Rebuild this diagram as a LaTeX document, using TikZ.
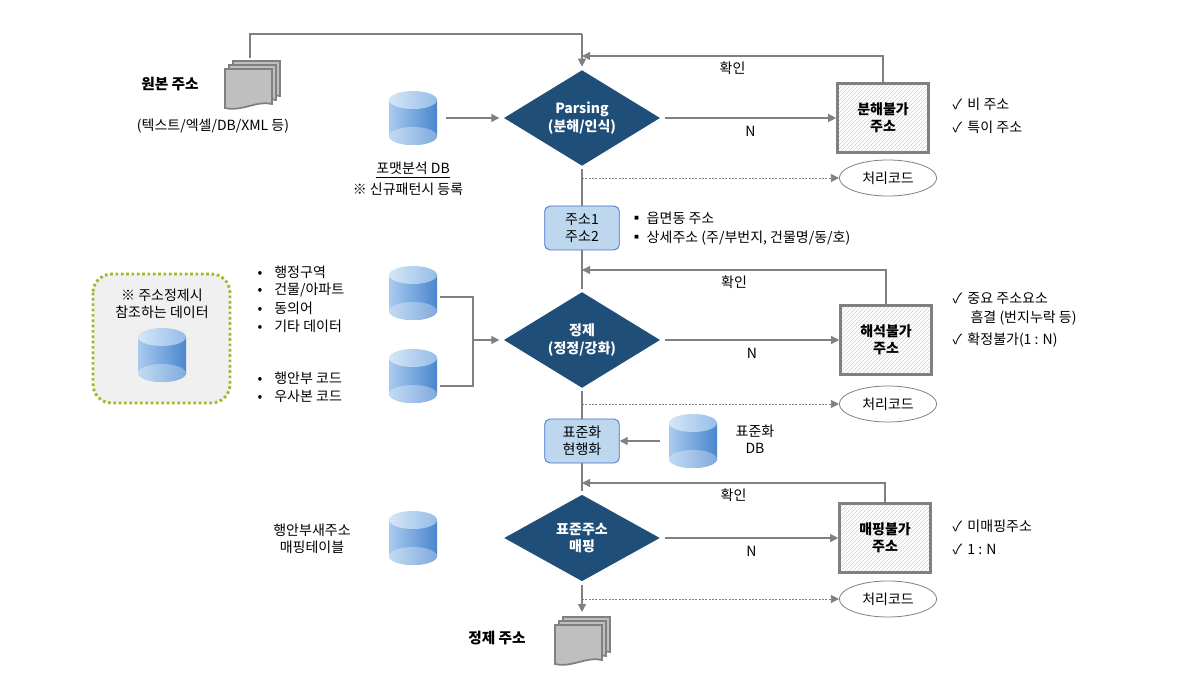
\documentclass[tikz,border=0pt]{standalone}
\usepackage{fontspec}
\setmainfont{Noto Sans CJK KR}
\usetikzlibrary{shapes.geometric,arrows.meta,patterns,shadows}
\definecolor{navy}{HTML}{1F4E79}
\definecolor{ln}{HTML}{808080}
\definecolor{lbl}{HTML}{BDD7EE}
\definecolor{lbd}{HTML}{4472C4}
\definecolor{olive}{HTML}{9BBB2A}
\definecolor{cyl1}{HTML}{A9CBEE}
\definecolor{cyl2}{HTML}{4A86CF}
\definecolor{cyl3}{HTML}{D5E6F8}
\tikzset{
 x=0.75pt,y=-0.75pt,
 every node/.style={font=\fontsize{10.5}{13}\selectfont,align=center,inner sep=1pt},
 arr/.style={draw=ln,line width=0.9pt,-{Triangle[width=6pt,length=6pt]}},
 ln/.style={draw=ln,line width=0.9pt},
 dsh/.style={draw=ln,line width=0.6pt,dash pattern=on 1.5pt off 1pt,-{Triangle[width=6pt,length=6pt]}},
 dia/.style={diamond,fill=navy,draw=white,line width=2pt,minimum width=122pt,minimum height=68pt,inner sep=0,text=white,font=\fontsize{10.5}{13}\selectfont\bfseries,drop shadow={opacity=0.3,shadow xshift=0pt,shadow yshift=-1pt}},
 fail/.style={rectangle,draw=ln,line width=2.2pt,preaction={fill=white},pattern=north east lines,pattern color=black!18,minimum width=68pt,minimum height=52pt,font=\fontsize{10.5}{13}\selectfont\bfseries},
 code/.style={ellipse,draw=ln,line width=0.6pt,minimum width=73pt,minimum height=27pt},
 proc/.style={rectangle,rounded corners=4pt,fill=lbl,draw=lbd,line width=0.6pt,minimum width=56pt,minimum height=33pt},
 cylnode/.style={rectangle,minimum width=37pt,minimum height=42pt,inner sep=0},
 cyl/.pic={
   \path[left color=cyl1,right color=cyl2] (0,18) ellipse [x radius=24,y radius=9];
   \path[left color=cyl1,right color=cyl2] (-24,-18) rectangle (24,18);
   \path[left color=cyl3,right color=cyl1!80!cyl2] (0,-18) ellipse [x radius=24,y radius=9];
   \path[left color=cyl1!70!white,right color=cyl2!70!white] (-24,18) arc[start angle=180,end angle=360,x radius=24,y radius=-9] arc[start angle=0,end angle=180,x radius=24,y radius=-9];
 },
 sheet/.style={fill=black!25,draw=ln,line width=1.3pt},
 docs/.pic={
   \foreach \d in {8,4,0}{
     \path[sheet] (-27+\d,-17-\d) -- (20+\d,-17-\d) -- (20+\d,18-\d) .. controls (5+\d,14-\d) and (-10+\d,26-\d) .. (-27+\d,22-\d) -- cycle;
   }
 }
}
\begin{document}
\begin{tikzpicture}
\useasboundingbox (0,0) rectangle (1192,684);
% left reference box
\path[fill=black!6,draw=olive,line width=2.2pt,dash pattern=on 2pt off 2pt,rounded corners=14pt] (93,274) rectangle (230,403);
\node at (162,304) {※ 주소정제시\\참조하는 데이터};
\pic at (162,355) {cyl};

% main nodes
\node[dia] (p1) at (582,118) {Parsing\\(분해/인식)};
\node[dia] (p2) at (582,340) {정제\\(정정/강화)};
\node[dia] (p3) at (582,538) {표준주소\\매핑};
\node[fail] (f1) at (883,118) {분해불가\\주소};
\node[fail] (f2) at (886,340) {해석불가\\주소};
\node[fail] (f3) at (885,538) {매핑불가\\주소};
\node[code] (c1) at (888,178) {처리코드};
\node[code] (c2) at (888,404) {처리코드};
\node[code] (c3) at (888,599) {처리코드};
\node[proc] (b1) at (582,228) {주소1\\주소2};
\node[proc] (b2) at (582,441) {표준화\\현행화};

% source and output docs
\pic at (252,86) {docs};
\node[cylnode] (src) at (250,86) {};
\node[font=\fontsize{11}{13}\selectfont\bfseries] at (170,84) {원본 주소};
\node at (213,126) {(텍스트/엑셀/DB/XML 등)};
\pic at (582,642) {docs};
\node[cylnode] (out) at (580,642) {};
\node[font=\fontsize{11}{13}\selectfont\bfseries] at (497,638) {정제 주소};

% cylinders
\pic at (413,118) {cyl}; \node[cylnode] (db1) at (413,118) {};
\pic at (413,293) {cyl}; \node[cylnode] (db2) at (413,293) {};
\pic at (413,376) {cyl}; \node[cylnode] (db3) at (413,376) {};
\pic at (693,441) {cyl}; \node[cylnode] (db4) at (693,441) {};
\pic at (413,538) {cyl}; \node[cylnode] (db5) at (413,538) {};
\node at (413,170) {\underline{포맷분석 DB}};
\node at (408,189) {※ 신규패턴시 등록};
\node at (755,439) {표준화\\DB};
\node at (312,539) {행안부새주소\\매핑테이블};

% lists
\begin{scope}[every node/.append style={anchor=west}]
\node at (256,272) {•\hspace{9pt}행정구역};
\node at (256,290) {•\hspace{9pt}건물/아파트};
\node at (256,308) {•\hspace{9pt}동의어};
\node at (256,326) {•\hspace{9pt}기타 데이터};
\node at (256,378) {•\hspace{9pt}행안부 코드};
\node at (256,396) {•\hspace{9pt}우사본 코드};
\node at (628,218) {▪ 읍면동 주소};
\node at (628,238) {▪ 상세주소 (주/부번지, 건물명/동/호)};
\node at (951,104) {✓\hspace{4pt}비 주소};
\node at (951,127) {✓\hspace{4pt}특이 주소};
\node at (951,299) {✓\hspace{4pt}중요 주소요소};
\node at (969,318) {흠결 (번지누락 등)};
\node at (951,340) {✓\hspace{4pt}확정불가(1 : N)};
\node at (951,526) {✓\hspace{4pt}미매핑주소};
\node at (951,549) {✓\hspace{4pt}1 : N};
\end{scope}

% connectors
\coordinate (t1) at (582,34);
\draw[ln] (src.north) |- (t1);
\draw[arr] (t1) -- (p1.north);
\draw[arr] (db1.east) ++(8,0) -- (p1.west);
\draw[arr] (p1.east) -- node[below=5pt]{N} (f1.west);
\draw[arr] (f1.north) |- node[pos=0.75,below=3pt]{확인} (582,56);
\draw[dsh] (582,178) -- (c1.west);
\draw[ln] (p1.south) -- (b1.north);
\draw[ln] (b1.south) -- (p2.north);
\coordinate (m) at (473,340);
\draw[ln] (db2.east) ++(2,4) -| (m);
\draw[ln] (db3.east) ++(2,10) -| (m);
\draw[arr] (m) -- (p2.west);
\draw[arr] (p2.east) -- node[below=5pt]{N} (f2.west);
\draw[arr] (f2.north) |- node[pos=0.75,below=3pt]{확인} (582,270);
\draw[dsh] (582,404) -- (c2.west);
\draw[ln] (p2.south) -- (b2.north);
\draw[arr] (db4.west) ++(-8,0) -- (b2.east);
\draw[ln] (b2.south) -- (p3.north);
\draw[arr] (p3.east) -- node[below=5pt]{N} (f3.west);
\draw[arr] (f3.north) |- node[pos=0.75,below=3pt]{확인} (582,483);
\draw[dsh] (582,599) -- (c3.west);
\draw[arr] (p3.south) -- (582,612);
\end{tikzpicture}
\end{document}
